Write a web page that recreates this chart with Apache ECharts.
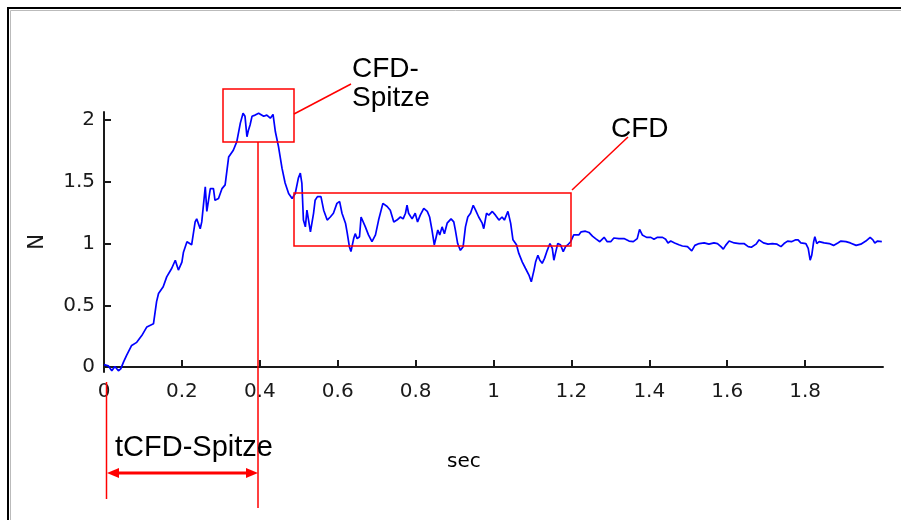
<!DOCTYPE html>
<html>
<head>
<meta charset="utf-8">
<script src="https://cdn.jsdelivr.net/npm/echarts@6/dist/echarts.min.js"></script>
<style>
html, body { margin: 0; padding: 0; background: #fff; }
#chart { width: 901px; height: 520px; }
</style>
</head>
<body>
<div id="chart"></div>
<script>
// time (sec) and force (N)
const tSec = [
  0.000, 0.011, 0.020, 0.028, 0.037, 0.043, 0.050, 0.058, 0.071, 0.084,
  0.097, 0.110, 0.127, 0.135, 0.140, 0.152, 0.161, 0.174, 0.183, 0.191,
  0.200, 0.204, 0.213, 0.225, 0.234, 0.238, 0.247, 0.251, 0.260, 0.264,
  0.273, 0.281, 0.285, 0.294, 0.303, 0.311, 0.320, 0.332, 0.341, 0.350,
  0.357, 0.362, 0.367, 0.371, 0.375, 0.380, 0.388, 0.397, 0.410, 0.418,
  0.427, 0.434, 0.440, 0.448, 0.457, 0.465, 0.474, 0.483, 0.491, 0.499,
  0.504, 0.508, 0.512, 0.517, 0.521, 0.525, 0.530, 0.534, 0.538, 0.542,
  0.548, 0.557, 0.564, 0.573, 0.581, 0.589, 0.598, 0.605, 0.611, 0.620,
  0.624, 0.630, 0.634, 0.641, 0.645, 0.650, 0.656, 0.660, 0.665, 0.671,
  0.679, 0.688, 0.697, 0.705, 0.716, 0.727, 0.735, 0.744, 0.752, 0.761,
  0.768, 0.774, 0.778, 0.782, 0.791, 0.799, 0.805, 0.812, 0.821, 0.830,
  0.836, 0.842, 0.848, 0.853, 0.857, 0.862, 0.868, 0.874, 0.881, 0.891,
  0.898, 0.902, 0.908, 0.915, 0.922, 0.928, 0.934, 0.941, 0.948, 0.954,
  0.962, 0.971, 0.975, 0.982, 0.988, 0.997, 1.005, 1.014, 1.022, 1.028,
  1.037, 1.044, 1.050, 1.059, 1.065, 1.074, 1.082, 1.091, 1.097, 1.104,
  1.108, 1.114, 1.119, 1.125, 1.131, 1.138, 1.145, 1.151, 1.155, 1.159,
  1.165, 1.172, 1.179, 1.185, 1.191, 1.198, 1.206, 1.211, 1.219, 1.225,
  1.236, 1.245, 1.254, 1.262, 1.273, 1.284, 1.292, 1.301, 1.309, 1.322,
  1.335, 1.348, 1.359, 1.369, 1.375, 1.382, 1.393, 1.404, 1.412, 1.421,
  1.434, 1.442, 1.448, 1.455, 1.465, 1.476, 1.485, 1.498, 1.509, 1.517,
  1.528, 1.541, 1.553, 1.566, 1.575, 1.584, 1.590, 1.596, 1.605, 1.618,
  1.631, 1.643, 1.654, 1.662, 1.674, 1.682, 1.693, 1.705, 1.716, 1.728,
  1.738, 1.746, 1.755, 1.765, 1.776, 1.782, 1.789, 1.802, 1.808, 1.813,
  1.817, 1.822, 1.825, 1.830, 1.836, 1.849, 1.862, 1.873, 1.884, 1.892,
  1.905, 1.916, 1.931, 1.943, 1.956, 1.967, 1.974, 1.979, 1.986, 1.997
];
const forceN = [
  0.02, 0.01, -0.03, 0.005, -0.03, -0.015, 0.04, 0.095, 0.175, 0.20,
  0.255, 0.325, 0.35, 0.53, 0.595, 0.65, 0.73, 0.80, 0.865, 0.785,
  0.85, 0.93, 1.015, 0.99, 1.175, 1.20, 1.12, 1.175, 1.46, 1.26,
  1.445, 1.445, 1.35, 1.365, 1.445, 1.475, 1.70, 1.755, 1.825, 1.975,
  2.055, 2.03, 1.865, 1.92, 1.96, 2.03, 2.04, 2.055, 2.03, 2.04,
  2.015, 2.045, 1.905, 1.785, 1.61, 1.49, 1.405, 1.365, 1.405, 1.53,
  1.57, 1.49, 1.19, 1.135, 1.27, 1.285, 1.095, 1.08, 1.245, 1.35,
  1.38, 1.38, 1.27, 1.19, 1.215, 1.245, 1.325, 1.34, 1.245, 1.165,
  1.095, 0.975, 0.935, 1.04, 1.08, 1.04, 1.055, 1.215, 1.23, 1.135,
  1.07, 1.015, 1.07, 1.19, 1.325, 1.30, 1.27, 1.175, 1.19, 1.215,
  1.20, 1.245, 1.31, 1.245, 1.20, 1.245, 1.175, 1.23, 1.285, 1.26,
  1.215, 1.11, 0.99, 1.055, 1.11, 1.07, 1.135, 1.08, 1.165, 1.20,
  1.175, 1.11, 1.00, 0.945, 0.975, 1.135, 1.215, 1.245, 1.31, 1.27,
  1.215, 1.165, 1.12, 1.245, 1.23, 1.26, 1.23, 1.19, 1.215, 1.19,
  1.26, 1.165, 1.03, 0.99, 0.92, 0.85, 0.80, 0.745, 0.69, 0.785,
  0.85, 0.905, 0.865, 0.84, 0.88, 0.945, 1.00, 0.96, 0.865, 0.92,
  1.00, 0.99, 0.935, 0.975, 0.99, 1.015, 1.07, 1.08, 1.07, 1.095,
  1.10, 1.09, 1.06, 1.04, 1.015, 1.05, 1.015, 1.015, 1.045, 1.04,
  1.04, 1.02, 1.015, 1.04, 1.115, 1.07, 1.05, 1.05, 1.035, 1.05,
  1.05, 1.035, 1.005, 1.02, 1.005, 0.99, 0.98, 0.975, 0.94, 0.985,
  1.00, 1.005, 0.995, 1.005, 1.00, 0.975, 0.955, 0.985, 1.02, 1.005,
  1.00, 1.00, 0.975, 0.97, 0.995, 1.03, 1.005, 0.995, 1.00, 0.995,
  0.975, 1.00, 1.02, 1.015, 1.03, 1.03, 1.005, 1.00, 0.96, 0.865,
  0.905, 1.015, 1.055, 1.00, 1.015, 1.005, 1.00, 0.985, 1.005, 1.02,
  1.015, 1.005, 0.985, 0.995, 1.02, 1.05, 1.03, 1.005, 1.02, 1.015
];
const xTicks = [0, 0.2, 0.4, 0.6, 0.8, 1, 1.2, 1.4, 1.6, 1.8];
const yTicks = [0, 0.5, 1, 1.5, 2];

const chart = echarts.init(document.getElementById('chart'));
const red = '#ff0000';
const axisColor = '#1a1a1a';
const textFont = 'Liberation Sans';

const option = {
    animation: false,
    backgroundColor: '#fff',
    grid: { left: 104, right: 18, top: 112, bottom: 148 },
    xAxis: {
        type: 'value',
        min: 0,
        max: 2,
        axisLine: { lineStyle: { color: axisColor, width: 2 } },
        axisTick: { inside: true, length: 7, customValues: xTicks, lineStyle: { color: axisColor, width: 2 } },
        axisLabel: { customValues: xTicks, margin: 10, color: axisColor, fontFamily: 'DejaVu Sans', fontSize: 20 },
        splitLine: { show: false }
    },
    yAxis: {
        type: 'value',
        min: -0.04,
        max: 2.065,
        name: 'N',
        nameLocation: 'middle',
        nameRotate: 90,
        nameGap: 56,
        nameTextStyle: { color: axisColor, fontFamily: 'DejaVu Sans', fontSize: 21 },
        axisLine: { show: true, lineStyle: { color: axisColor, width: 2 } },
        axisTick: { show: true, inside: true, length: 7, customValues: yTicks, lineStyle: { color: axisColor, width: 2 } },
        axisLabel: { customValues: yTicks, margin: 9, color: axisColor, fontFamily: 'DejaVu Sans', fontSize: 20 },
        splitLine: { show: false }
    },
    series: [{
        type: 'line',
        data: tSec.map((t, i) => [t, forceN[i]]),
        showSymbol: false,
        clip: false,
        lineStyle: { color: '#0000ff', width: 1.7 }
    }],
    graphic: [
        // outer frame
        { type: 'polyline', shape: { points: [[8, 520], [8, 8], [901, 8]] }, style: { stroke: '#000', lineWidth: 2, fill: null } },
        { type: 'polyline', shape: { points: [[10.5, 520], [10.5, 10.5], [901, 10.5]] }, style: { stroke: '#bbb', lineWidth: 1, fill: null } },
        // CFD-Spitze callout
        { type: 'rect', shape: { x: 223, y: 89, width: 71, height: 53 }, style: { stroke: red, lineWidth: 1.5, fill: null }, z: 10 },
        { type: 'line', shape: { x1: 294, y1: 114, x2: 351, y2: 84 }, style: { stroke: red, lineWidth: 1.5 }, z: 10 },
        { type: 'text', left: 352, top: 55, style: { text: 'CFD-\nSpitze', fontFamily: textFont, fontSize: 28, lineHeight: 29, fill: '#000' }, z: 10 },
        // CFD callout
        { type: 'rect', shape: { x: 294, y: 193, width: 277, height: 53 }, style: { stroke: red, lineWidth: 1.5, fill: null }, z: 10 },
        { type: 'line', shape: { x1: 572, y1: 190, x2: 628, y2: 137 }, style: { stroke: red, lineWidth: 1.5 }, z: 10 },
        { type: 'text', left: 611, top: 115, style: { text: 'CFD', fontFamily: textFont, fontSize: 28, fill: '#000' }, z: 10 },
        // time to peak
        { type: 'line', shape: { x1: 258, y1: 142, x2: 258, y2: 508 }, style: { stroke: red, lineWidth: 1.5 }, z: 10 },
        { type: 'line', shape: { x1: 106.5, y1: 382, x2: 106.5, y2: 499 }, style: { stroke: red, lineWidth: 1.5 }, z: 10 },
        { type: 'line', shape: { x1: 112, y1: 473, x2: 253, y2: 473 }, style: { stroke: red, lineWidth: 3 }, z: 10 },
        { type: 'polygon', shape: { points: [[107, 473], [119, 468], [119, 478]] }, style: { fill: red }, z: 10 },
        { type: 'polygon', shape: { points: [[258, 473], [246, 468], [246, 478]] }, style: { fill: red }, z: 10 },
        { type: 'text', left: 115, top: 433, style: { text: 'tCFD-Spitze', fontFamily: textFont, fontSize: 29, fill: '#000' }, z: 10 },
        // axis title
        { type: 'text', left: 447, top: 452, style: { text: 'sec', fontFamily: 'DejaVu Sans', fontSize: 20, fill: '#000' }, z: 10 }
    ]
};
chart.setOption(option);
window.addEventListener('resize', () => chart.resize());
</script>
</body>
</html>
